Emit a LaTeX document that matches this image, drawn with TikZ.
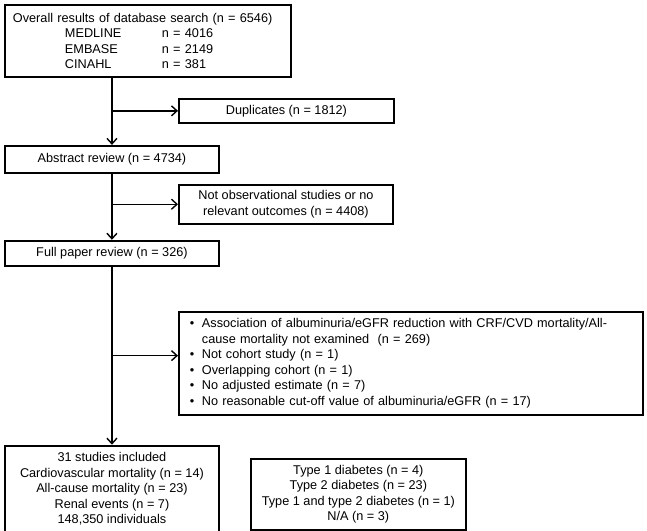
\documentclass[tikz,border=0pt]{standalone}
\usepackage{fontspec}
\setmainfont{Liberation Sans}
\usepackage{tikz}
\usetikzlibrary{arrows.meta, positioning}

\begin{document}
\begin{tikzpicture}
    % Define styles
    \tikzstyle{block} = [rectangle, draw, line width=1.9pt,
                          font=\fontsize{12.7}{15.5}\selectfont,
                          align=center]
    \tikzstyle{arrow} = [line width=1.4pt,-{Straight Barb[length=5.5pt,width=10pt]}]

    \useasboundingbox (0,0) rectangle (647pt,530pt);

    % Create blocks
    \node[block, anchor=north west, align=left, inner xsep=8pt,
          text width=270pt, minimum height=72pt] (search) at (4pt,526pt)
        {Overall results of database search (n = 6546)\\
         \hspace*{52pt}\makebox[97pt][l]{MEDLINE}n = 4016\\
         \hspace*{52pt}\makebox[97pt][l]{EMBASE}n = 2149\\
         \hspace*{52pt}\makebox[97pt][l]{CINAHL}n = 381};
    \node[block, below=67pt of search.south west, anchor=north west,
          minimum width=214pt, minimum height=27pt] (abstract) {Abstract review (n = 4734)};
    \node[block, below=66pt of abstract.south west, anchor=north west,
          minimum width=214pt, minimum height=25pt] (full) {Full paper review (n = 326)};
    \node[block, below=178pt of full.south west, anchor=north west,
          minimum width=214pt, minimum height=87pt] (final)
        {31 studies included\\Cardiovascular mortality (n = 14)\\All-cause mortality (n = 23)\\
         Renal events (n = 7)\\148,350 individuals};

    \node[block, below right=20pt and 174pt of search.south west,
          minimum width=215pt, minimum height=24pt] (dup) {Duplicates (n = 1812)};
    \node[block, below=60pt of dup.south west, anchor=north west,
          minimum width=214pt, minimum height=39pt] (notobs)
        {Not observational studies or no\\relevant outcomes (n = 4408)};
    \node[block, below=86pt of notobs.south west, anchor=north west, align=left,
          inner xsep=11pt, text width=442pt, minimum height=103pt] (excl)
        {\makebox[12pt][l]{\textbullet}Association of albuminuria/eGFR reduction with CRF/CVD mortality/All-\\
         \hspace*{12pt}cause mortality not examined\ \ (n = 269)\\
         \makebox[12pt][l]{\textbullet}Not cohort study (n = 1)\\
         \makebox[12pt][l]{\textbullet}Overlapping cohort (n = 1)\\
         \makebox[12pt][l]{\textbullet}No adjusted estimate (n = 7)\\
         \makebox[12pt][l]{\textbullet}No reasonable cut-off value of albuminuria/eGFR (n = 17)};
    \node[block, below right=13pt and 30pt of final.north east,
          minimum width=215pt, minimum height=71pt] (diab)
        {Type 1 diabetes (n = 4)\\Type 2 diabetes (n = 23)\\
         Type 1 and type 2 diabetes (n = 1)\\N/A (n = 3)};

    \coordinate (exclin) at ([yshift=7.5pt]excl.west);

    % Draw arrows
    \draw[arrow] (abstract.north |- search.south) -- (abstract.north);
    \draw[arrow] (full.north |- abstract.south) -- (full.north);
    \draw[arrow] (final.north |- full.south) -- (final.north);
    \draw[arrow] (dup.west -| abstract.north) -- (dup.west);
    \draw[arrow] (notobs.west -| full.north) -- (notobs.west);
    \draw[arrow] (exclin -| final.north) -- (exclin);
\end{tikzpicture}
\end{document}
